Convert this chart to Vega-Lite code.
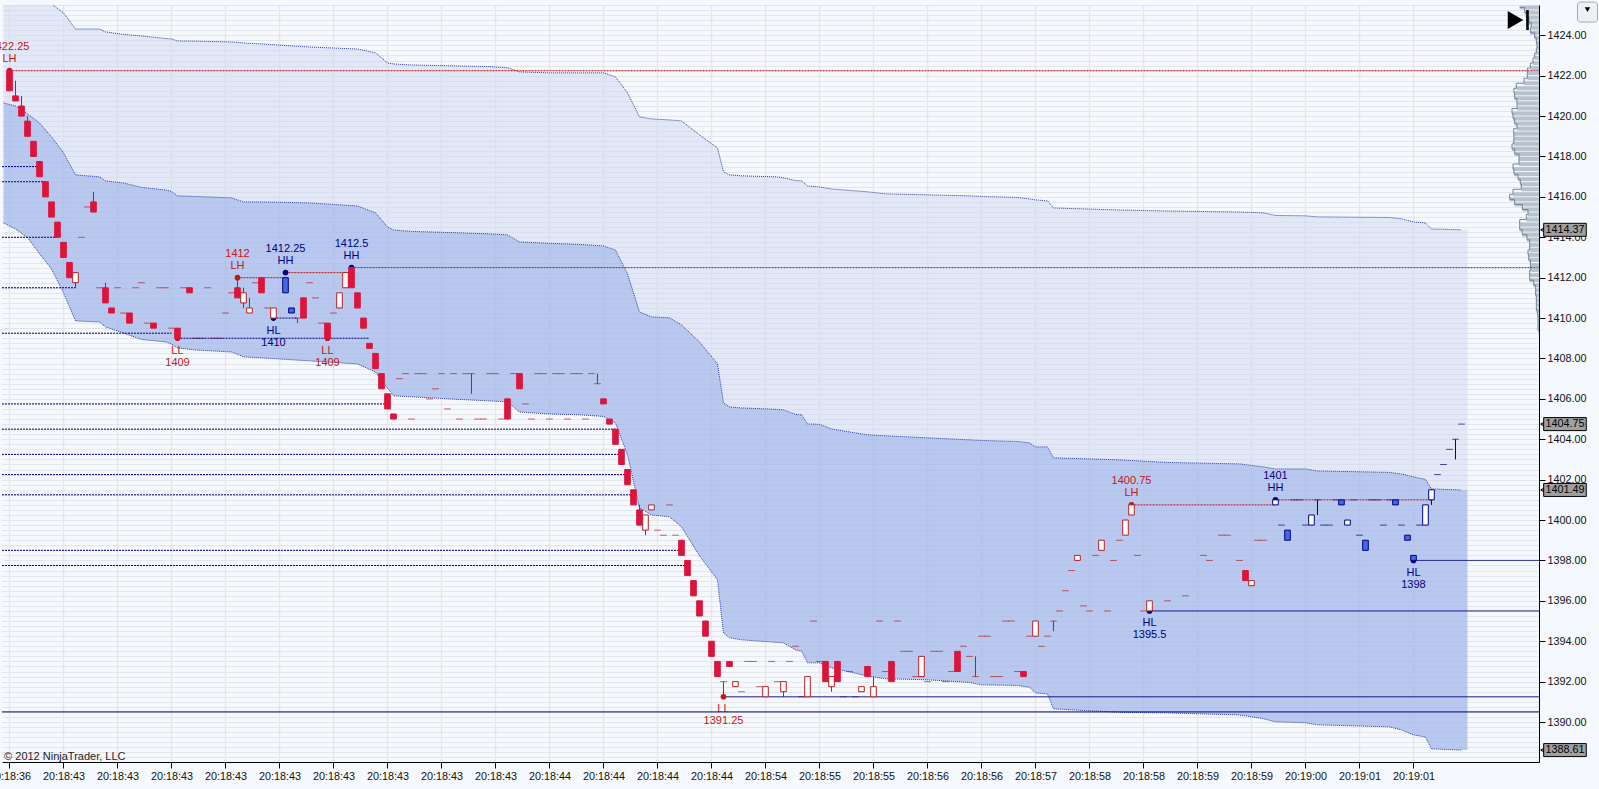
{"$schema":"https://vega.github.io/schema/vega-lite/v6.json","width":1537,"height":757,"autosize":{"type":"none"},"padding":{"left":2,"top":5,"right":60,"bottom":27},"background":"#f5f8fc","config":{"view":{"stroke":null}},
"datasets":{
"bands":[{"i":-1,"t":1427.88,"m":1420.65,"b":1414.71},{"i":1,"t":1427.63,"m":1420.5,"b":1414.41},{"i":3,"t":1427.13,"m":1420.11,"b":1413.99},{"i":5,"t":1426.49,"m":1419.66,"b":1413.18},{"i":7,"t":1425.55,"m":1418.97,"b":1412.43},{"i":9,"t":1425.11,"m":1418.18,"b":1411.25},{"i":11,"t":1424.31,"m":1417.09,"b":1409.86},{"i":15,"t":1424.31,"m":1416.99,"b":1409.81},{"i":16,"t":1424.17,"m":1416.79,"b":1409.56},{"i":19,"t":1424.04,"m":1416.69,"b":1409.26},{"i":22,"t":1423.97,"m":1416.47,"b":1408.94},{"i":26,"t":1423.84,"m":1416.34,"b":1408.82},{"i":27,"t":1423.82,"m":1416.27,"b":1408.72},{"i":28,"t":1423.72,"m":1416.05,"b":1408.52},{"i":31,"t":1423.71,"m":1416.02,"b":1408.42},{"i":37,"t":1423.67,"m":1415.95,"b":1408.32},{"i":39,"t":1423.62,"m":1415.75,"b":1408.08},{"i":42,"t":1423.57,"m":1415.75,"b":1408.03},{"i":50,"t":1423.42,"m":1415.7,"b":1407.88},{"i":58,"t":1423.32,"m":1415.55,"b":1407.73},{"i":61,"t":1423.13,"m":1415.21,"b":1407.33},{"i":63,"t":1422.63,"m":1414.51,"b":1406.54},{"i":64,"t":1422.58,"m":1414.36,"b":1406.15},{"i":67,"t":1422.53,"m":1414.29,"b":1406.1},{"i":75,"t":1422.48,"m":1414.22,"b":1405.97},{"i":80,"t":1422.45,"m":1414.17,"b":1405.9},{"i":83,"t":1422.39,"m":1414.12,"b":1405.85},{"i":85,"t":1422.19,"m":1413.77,"b":1405.35},{"i":90,"t":1422.14,"m":1413.7,"b":1405.25},{"i":95,"t":1422.14,"m":1413.65,"b":1405.21},{"i":99,"t":1422.14,"m":1413.57,"b":1405.13},{"i":101,"t":1421.94,"m":1413.37,"b":1404.81},{"i":103,"t":1421.15,"m":1412.19,"b":1403.23},{"i":105,"t":1419.96,"m":1410.3,"b":1400.6},{"i":107,"t":1419.86,"m":1410.06,"b":1400.25},{"i":110,"t":1419.81,"m":1410.01,"b":1400.16},{"i":112,"t":1419.76,"m":1409.66,"b":1399.66},{"i":115,"t":1419.07,"m":1408.82,"b":1398.23},{"i":118,"t":1418.42,"m":1407.73,"b":1397.04},{"i":119,"t":1417.24,"m":1405.8,"b":1394.41},{"i":120,"t":1417.09,"m":1405.6,"b":1394.17},{"i":122,"t":1417.04,"m":1405.55,"b":1394.07},{"i":128,"t":1416.99,"m":1405.48,"b":1393.94},{"i":129,"t":1416.94,"m":1405.45,"b":1393.92},{"i":131,"t":1416.81,"m":1405.23,"b":1393.57},{"i":132,"t":1416.79,"m":1405.21,"b":1393.52},{"i":133,"t":1416.54,"m":1404.76,"b":1392.93},{"i":135,"t":1416.49,"m":1404.74,"b":1392.93},{"i":137,"t":1416.39,"m":1404.51,"b":1392.68},{"i":140,"t":1416.32,"m":1404.36,"b":1392.48},{"i":143,"t":1416.25,"m":1404.22,"b":1392.28},{"i":146,"t":1416.15,"m":1404.17,"b":1392.14},{"i":153,"t":1416.1,"m":1404.07,"b":1392.09},{"i":160,"t":1416.05,"m":1403.97,"b":1391.96},{"i":162,"t":1416.02,"m":1403.94,"b":1391.84},{"i":168,"t":1415.97,"m":1403.89,"b":1391.81},{"i":170,"t":1415.9,"m":1403.82,"b":1391.72},{"i":171,"t":1415.85,"m":1403.62,"b":1391.44},{"i":173,"t":1415.8,"m":1403.62,"b":1391.39},{"i":174,"t":1415.45,"m":1403.08,"b":1390.65},{"i":185,"t":1415.35,"m":1402.98,"b":1390.48},{"i":193,"t":1415.3,"m":1402.85,"b":1390.45},{"i":205,"t":1415.25,"m":1402.78,"b":1390.35},{"i":209,"t":1415.21,"m":1402.63,"b":1390.16},{"i":211,"t":1415.08,"m":1402.53,"b":1390.01},{"i":216,"t":1415.06,"m":1402.53,"b":1389.96},{"i":218,"t":1415.01,"m":1402.43,"b":1389.86},{"i":230,"t":1414.98,"m":1402.36,"b":1389.76},{"i":232,"t":1414.91,"m":1402.28,"b":1389.61},{"i":234,"t":1414.76,"m":1402.14,"b":1389.36},{"i":236,"t":1414.71,"m":1402.01,"b":1389.26},{"i":237,"t":1414.41,"m":1401.54,"b":1388.67},{"i":242,"t":1414.37,"m":1401.49,"b":1388.61},{"i":243,"t":1414.37,"m":1401.49,"b":1388.61}],
"candles":[{"i":0,"o":1422.25,"c":1421.25,"k":"R"},{"i":1,"o":1421,"c":1420.75,"h":1421.75,"l":1420.75,"k":"R"},{"i":2,"o":1420.5,"c":1420,"h":1421,"l":1420,"k":"R"},{"i":3,"o":1419.75,"c":1419,"h":1420,"l":1419,"k":"R"},{"i":4,"o":1418.75,"c":1418,"k":"R"},{"i":5,"o":1417.75,"c":1417,"k":"R"},{"i":6,"o":1416.75,"c":1416,"k":"R"},{"i":7,"o":1415.75,"c":1415,"k":"R"},{"i":8,"o":1414.75,"c":1414,"k":"R"},{"i":9,"o":1413.75,"c":1413,"k":"R"},{"i":10,"o":1412.75,"c":1412,"k":"R"},{"i":11,"o":1411.75,"c":1412.25,"h":1412.25,"l":1411.5,"k":"W"},{"i":12,"o":1414,"c":1414,"k":"W"},{"i":13,"o":1415.5,"c":1415.5,"k":"W"},{"i":14,"o":1415.75,"c":1415.25,"h":1416.25,"l":1415.25,"k":"R"},{"i":15,"o":1411.5,"c":1411.5,"k":"W"},{"i":16,"o":1411.5,"c":1410.75,"h":1411.75,"l":1410.75,"k":"R"},{"i":17,"o":1410.5,"c":1410.25,"k":"R"},{"i":18,"o":1411.5,"c":1411.5,"k":"W"},{"i":19,"o":1410.25,"c":1410.25,"k":"W"},{"i":20,"o":1410.25,"c":1409.75,"k":"R"},{"i":21,"o":1411.5,"c":1411.5,"k":"W"},{"i":22,"o":1411.75,"c":1411.75,"k":"W"},{"i":23,"o":1409.75,"c":1409.75,"k":"W"},{"i":24,"o":1409.75,"c":1409.5,"k":"R"},{"i":25,"o":1411.5,"c":1411.5,"k":"W"},{"i":26,"o":1411.5,"c":1411.5,"k":"W"},{"i":27,"o":1409.5,"c":1409.5,"k":"W"},{"i":28,"o":1409.5,"c":1409,"k":"R"},{"i":29,"o":1411.5,"c":1411.5,"k":"W"},{"i":30,"o":1411.5,"c":1411.25,"k":"R"},{"i":31,"o":1409,"c":1409,"k":"W"},{"i":32,"o":1409,"c":1409,"k":"W"},{"i":33,"o":1411.5,"c":1411.5,"k":"W"},{"i":34,"o":1409,"c":1409,"k":"W"},{"i":35,"o":1409,"c":1409,"k":"W"},{"i":36,"o":1410.25,"c":1410.25,"k":"W"},{"i":37,"o":1411.25,"c":1411.25,"k":"W"},{"i":38,"o":1411.5,"c":1411,"h":1412,"l":1411,"k":"R"},{"i":39,"o":1410.75,"c":1411.25,"h":1411.5,"l":1410.5,"k":"W"},{"i":40,"o":1410.25,"c":1410.5,"h":1411,"l":1410.25,"k":"W"},{"i":41,"o":1411.75,"c":1411.75,"k":"W"},{"i":42,"o":1412,"c":1411.25,"k":"R"},{"i":43,"o":1410.5,"c":1410.5,"k":"W"},{"i":44,"o":1410,"c":1410.5,"k":"W"},{"i":46,"o":1412,"c":1411.25,"k":"B"},{"i":47,"o":1410.5,"c":1410.25,"k":"B"},{"i":48,"o":1410,"c":1410,"h":1410,"l":1409.75,"k":"W"},{"i":49,"o":1411,"c":1410,"k":"R"},{"i":50,"o":1411.75,"c":1411.75,"k":"W"},{"i":51,"o":1411,"c":1411,"k":"W"},{"i":52,"o":1409.75,"c":1409.75,"k":"W"},{"i":53,"o":1409.75,"c":1409,"k":"R"},{"i":54,"o":1410.25,"c":1410.25,"k":"W"},{"i":55,"o":1410.5,"c":1411.25,"k":"W"},{"i":56,"o":1411.5,"c":1412.25,"k":"W"},{"i":57,"o":1412.5,"c":1411.5,"k":"R"},{"i":58,"o":1411.25,"c":1410.5,"k":"R"},{"i":59,"o":1410,"c":1409.5,"k":"R"},{"i":60,"o":1408.75,"c":1408.5,"k":"R"},{"i":61,"o":1408.25,"c":1407.5,"k":"R"},{"i":62,"o":1407.25,"c":1406.5,"k":"R"},{"i":63,"o":1406.25,"c":1405.5,"k":"R"},{"i":64,"o":1405.25,"c":1405,"k":"R"},{"i":65,"o":1407,"c":1407,"k":"W"},{"i":66,"o":1407.25,"c":1407.25,"k":"W"},{"i":67,"o":1405,"c":1405,"k":"W"},{"i":68,"o":1407.25,"c":1407.25,"k":"W"},{"i":69,"o":1407.25,"c":1407.25,"k":"W"},{"i":70,"o":1406,"c":1406,"k":"W"},{"i":71,"o":1406.5,"c":1406.5,"k":"W"},{"i":72,"o":1407.25,"c":1407.25,"k":"W"},{"i":73,"o":1405.5,"c":1405.5,"k":"W"},{"i":74,"o":1407.25,"c":1407.25,"k":"W"},{"i":75,"o":1405,"c":1405,"k":"W"},{"i":76,"o":1407.25,"c":1407.25,"k":"W"},{"i":77,"o":1407.25,"c":1407.25,"h":1407.25,"l":1406.25,"k":"W"},{"i":78,"o":1405,"c":1405,"k":"W"},{"i":79,"o":1405,"c":1405,"k":"W"},{"i":80,"o":1407.25,"c":1407.25,"k":"W"},{"i":81,"o":1407.25,"c":1407.25,"k":"W"},{"i":82,"o":1405,"c":1405,"k":"W"},{"i":83,"o":1406,"c":1405,"k":"R"},{"i":84,"o":1407.25,"c":1407.25,"k":"W"},{"i":85,"o":1407.25,"c":1406.5,"k":"R"},{"i":86,"o":1405.75,"c":1405.75,"k":"W"},{"i":87,"o":1405,"c":1405,"k":"W"},{"i":88,"o":1407.25,"c":1407.25,"k":"W"},{"i":89,"o":1407.25,"c":1407.25,"k":"W"},{"i":90,"o":1405,"c":1405,"k":"W"},{"i":91,"o":1407.25,"c":1407.25,"k":"W"},{"i":92,"o":1407.25,"c":1407.25,"k":"W"},{"i":93,"o":1405,"c":1405,"k":"W"},{"i":94,"o":1407.25,"c":1407.25,"k":"W"},{"i":95,"o":1407.25,"c":1407.25,"k":"W"},{"i":96,"o":1405,"c":1405,"k":"W"},{"i":97,"o":1407.25,"c":1407.25,"k":"W"},{"i":98,"o":1406.75,"c":1406.75,"h":1407.25,"l":1406.75,"k":"W"},{"i":99,"o":1406,"c":1405.75,"k":"R"},{"i":100,"o":1405,"c":1404.75,"k":"R"},{"i":101,"o":1404.5,"c":1403.75,"k":"R"},{"i":102,"o":1403.5,"c":1402.75,"k":"R"},{"i":103,"o":1402.5,"c":1401.75,"k":"R"},{"i":104,"o":1401.5,"c":1400.75,"k":"R"},{"i":105,"o":1400.5,"c":1399.75,"h":1400.75,"l":1399.75,"k":"R"},{"i":106,"o":1399.5,"c":1400.25,"h":1400.25,"l":1399.25,"k":"W"},{"i":107,"o":1400.5,"c":1400.75,"k":"W"},{"i":108,"o":1399.5,"c":1399.5,"k":"W"},{"i":109,"o":1399.25,"c":1399.25,"k":"W"},{"i":110,"o":1400.75,"c":1400.75,"k":"W"},{"i":111,"o":1399.25,"c":1399.25,"k":"W"},{"i":112,"o":1399,"c":1398.25,"k":"R"},{"i":113,"o":1398,"c":1397.25,"k":"R"},{"i":114,"o":1397,"c":1396.25,"k":"R"},{"i":115,"o":1396,"c":1395.25,"k":"R"},{"i":116,"o":1395,"c":1394.25,"k":"R"},{"i":117,"o":1394,"c":1393.25,"k":"R"},{"i":118,"o":1393,"c":1392.25,"k":"R"},{"i":119,"o":1392,"c":1392,"h":1392,"l":1391.25,"k":"W"},{"i":120,"o":1393,"c":1392.75,"k":"R"},{"i":121,"o":1391.75,"c":1392,"k":"W"},{"i":122,"o":1391.5,"c":1391.5,"k":"W"},{"i":123,"o":1393,"c":1393,"k":"W"},{"i":124,"o":1393,"c":1393,"k":"W"},{"i":125,"o":1391.75,"c":1391.75,"k":"W"},{"i":126,"o":1391.25,"c":1391.75,"k":"W"},{"i":127,"o":1393,"c":1393,"k":"W"},{"i":128,"o":1392,"c":1392,"k":"W"},{"i":129,"o":1391.5,"c":1392,"h":1392,"l":1391.25,"k":"W"},{"i":130,"o":1393,"c":1393,"k":"W"},{"i":131,"o":1393.75,"c":1393.75,"k":"W"},{"i":132,"o":1391.25,"c":1391.25,"k":"W"},{"i":133,"o":1391.25,"c":1392.25,"k":"W"},{"i":134,"o":1395,"c":1395,"k":"W"},{"i":135,"o":1393,"c":1393,"k":"W"},{"i":136,"o":1393,"c":1392,"k":"R"},{"i":137,"o":1391.75,"c":1392.25,"h":1392.25,"l":1391.5,"k":"W"},{"i":138,"o":1393,"c":1392,"k":"R"},{"i":139,"o":1391.25,"c":1391.25,"k":"W"},{"i":140,"o":1392.5,"c":1392.5,"k":"W"},{"i":141,"o":1391.25,"c":1391.25,"k":"W"},{"i":142,"o":1391.5,"c":1391.75,"k":"W"},{"i":143,"o":1392.75,"c":1392.25,"k":"R"},{"i":144,"o":1391.25,"c":1391.75,"h":1392.25,"l":1391.25,"k":"W"},{"i":145,"o":1395,"c":1395,"k":"W"},{"i":146,"o":1392.5,"c":1392.5,"k":"W"},{"i":147,"o":1393,"c":1392,"k":"R"},{"i":148,"o":1395,"c":1395,"k":"W"},{"i":149,"o":1393.5,"c":1393.5,"k":"W"},{"i":150,"o":1393.5,"c":1393.5,"k":"W"},{"i":151,"o":1392.25,"c":1392.25,"k":"W"},{"i":152,"o":1392.25,"c":1393.25,"k":"W"},{"i":153,"o":1392,"c":1392,"k":"W"},{"i":154,"o":1393.5,"c":1393.5,"k":"W"},{"i":155,"o":1393.5,"c":1393.5,"k":"W"},{"i":156,"o":1392,"c":1392,"k":"W"},{"i":157,"o":1392.5,"c":1392.5,"k":"W"},{"i":158,"o":1393.5,"c":1392.5,"k":"R"},{"i":159,"o":1393.75,"c":1393.75,"k":"W"},{"i":160,"o":1393.25,"c":1393.25,"k":"W"},{"i":161,"o":1392.25,"c":1392.25,"h":1393.25,"l":1392.25,"k":"W"},{"i":162,"o":1394.25,"c":1394.25,"k":"W"},{"i":163,"o":1394.25,"c":1394.25,"k":"W"},{"i":164,"o":1392.25,"c":1392.25,"k":"W"},{"i":165,"o":1392.25,"c":1392.25,"k":"W"},{"i":166,"o":1395,"c":1395,"k":"W"},{"i":167,"o":1395,"c":1395,"k":"W"},{"i":168,"o":1392.5,"c":1392.5,"k":"W"},{"i":169,"o":1392.5,"c":1392.25,"k":"R"},{"i":170,"o":1394.25,"c":1394.25,"k":"W"},{"i":171,"o":1394.25,"c":1395,"k":"W"},{"i":172,"o":1393.75,"c":1393.75,"k":"W"},{"i":173,"o":1394.25,"c":1394.25,"k":"W"},{"i":174,"o":1395,"c":1395,"h":1395,"l":1394.5,"k":"W"},{"i":175,"o":1395.5,"c":1395.5,"k":"W"},{"i":176,"o":1396.5,"c":1396.5,"k":"W"},{"i":177,"o":1397.5,"c":1397.5,"k":"W"},{"i":178,"o":1398,"c":1398.25,"k":"W"},{"i":179,"o":1395.75,"c":1395.75,"k":"W"},{"i":180,"o":1395.5,"c":1395.5,"k":"W"},{"i":181,"o":1398.25,"c":1398.25,"k":"W"},{"i":182,"o":1398.5,"c":1399,"k":"W"},{"i":183,"o":1395.5,"c":1395.5,"k":"W"},{"i":184,"o":1398,"c":1398,"k":"W"},{"i":185,"o":1399,"c":1399,"k":"W"},{"i":186,"o":1399.25,"c":1400,"k":"W"},{"i":187,"o":1400.25,"c":1400.75,"k":"W"},{"i":188,"o":1398.25,"c":1398.25,"k":"W"},{"i":189,"o":1395.5,"c":1395.5,"k":"W"},{"i":190,"o":1395.5,"c":1396,"k":"W"},{"i":193,"o":1396,"c":1396,"k":"W"},{"i":196,"o":1396.25,"c":1396.25,"k":"W"},{"i":199,"o":1398.25,"c":1398.25,"k":"W"},{"i":200,"o":1398,"c":1398,"k":"W"},{"i":202,"o":1399.25,"c":1399.25,"k":"W"},{"i":203,"o":1399.25,"c":1399.25,"k":"W"},{"i":205,"o":1398,"c":1398,"k":"W"},{"i":206,"o":1397.5,"c":1397,"k":"R"},{"i":207,"o":1396.75,"c":1397,"k":"W"},{"i":208,"o":1399,"c":1399,"k":"W"},{"i":209,"o":1399,"c":1399,"k":"W"},{"i":211,"o":1400.75,"c":1401,"k":"N"},{"i":212,"o":1399.75,"c":1399.75,"k":"N"},{"i":213,"o":1399.5,"c":1399,"k":"B"},{"i":214,"o":1401,"c":1401,"k":"N"},{"i":215,"o":1401,"c":1401,"k":"N"},{"i":216,"o":1399.75,"c":1399.75,"k":"N"},{"i":217,"o":1399.75,"c":1400.25,"k":"N"},{"i":218,"o":1401,"c":1401,"h":1401,"l":1400.25,"k":"N"},{"i":219,"o":1399.75,"c":1399.75,"k":"N"},{"i":220,"o":1399.75,"c":1399.75,"k":"N"},{"i":221,"o":1401,"c":1401,"k":"N"},{"i":222,"o":1401,"c":1400.75,"k":"B"},{"i":223,"o":1399.75,"c":1400,"k":"N"},{"i":224,"o":1401,"c":1401,"k":"N"},{"i":225,"o":1399.25,"c":1399.25,"k":"N"},{"i":226,"o":1399,"c":1398.5,"k":"B"},{"i":227,"o":1401,"c":1401,"k":"N"},{"i":228,"o":1401,"c":1401,"k":"N"},{"i":229,"o":1399.75,"c":1399.75,"k":"N"},{"i":230,"o":1401,"c":1401,"k":"N"},{"i":231,"o":1401,"c":1400.75,"k":"B"},{"i":232,"o":1399.75,"c":1399.75,"k":"N"},{"i":233,"o":1399.25,"c":1399,"k":"B"},{"i":234,"o":1398.25,"c":1398,"k":"B"},{"i":235,"o":1399.75,"c":1399.75,"k":"N"},{"i":236,"o":1399.75,"c":1400.75,"k":"N"},{"i":237,"o":1401,"c":1401.5,"h":1401.5,"l":1400.75,"k":"N"},{"i":238,"o":1402.25,"c":1402.25,"k":"N"},{"i":239,"o":1402.75,"c":1402.75,"k":"N"},{"i":240,"o":1403.5,"c":1403.5,"k":"N"},{"i":241,"o":1404,"c":1404,"h":1404,"l":1403,"k":"N"},{"i":242,"o":1404.75,"c":1404.75,"k":"N"}],
"lines":[{"i":-1.25,"i2":5,"p":1417.5,"k":"n","s":"d"},{"i":-1.25,"i2":6,"p":1416.75,"k":"n","s":"d"},{"i":-1.25,"i2":8,"p":1414,"k":"n","s":"d"},{"i":-1.25,"i2":11,"p":1411.5,"k":"n","s":"d"},{"i":-1.25,"i2":27,"p":1409.25,"k":"n","s":"d"},{"i":-1.25,"i2":63,"p":1405.75,"k":"n","s":"d"},{"i":-1.25,"i2":101,"p":1404.5,"k":"n","s":"d"},{"i":-1.25,"i2":102,"p":1403.25,"k":"n","s":"d"},{"i":-1.25,"i2":103,"p":1402.25,"k":"n","s":"d"},{"i":-1.25,"i2":104,"p":1401.25,"k":"n","s":"d"},{"i":-1.25,"i2":112,"p":1398.5,"k":"n","s":"d"},{"i":-1.25,"i2":113,"p":1397.75,"k":"n","s":"d"},{"i":28,"i2":60,"p":1409,"k":"n","s":"d"},{"i":44,"i2":48,"p":1410,"k":"n","s":"d"},{"i":-1.25,"i2":254.92,"p":1390.5,"k":"n","s":"s"},{"i":119,"i2":254.92,"p":1391.25,"k":"n","s":"s"},{"i":190,"i2":254.92,"p":1395.5,"k":"n","s":"s"},{"i":234,"i2":254.92,"p":1398,"k":"n","s":"s"},{"i":0,"i2":254.92,"p":1422.25,"k":"r","s":"d"},{"i":57,"i2":254.92,"p":1412.5,"k":"r","s":"d"},{"i":38,"i2":46,"p":1412,"k":"r","s":"d"},{"i":46,"i2":57,"p":1412.25,"k":"r","s":"d"},{"i":187,"i2":211,"p":1400.75,"k":"r","s":"d"},{"i":211,"i2":237,"p":1401,"k":"r","s":"d"}],
"dots":[{"i":0,"p":1422.25,"k":"r"},{"i":38,"p":1412,"k":"r"},{"i":28,"p":1409,"k":"r"},{"i":53,"p":1409,"k":"r"},{"i":119,"p":1391.25,"k":"r"},{"i":187,"p":1400.75,"k":"r"},{"i":46,"p":1412.25,"k":"n"},{"i":57,"p":1412.5,"k":"n"},{"i":44,"p":1410,"k":"n"},{"i":211,"p":1401,"k":"n"},{"i":190,"p":1395.5,"k":"n"},{"i":234,"p":1398,"k":"n"}],
"labels":[{"i":0,"p":1423.42,"t":"1422.25","k":"r"},{"i":0,"p":1422.83,"t":"LH","k":"r"},{"i":38,"p":1413.16,"t":"1412","k":"r"},{"i":38,"p":1412.58,"t":"LH","k":"r"},{"i":46,"p":1413.41,"t":"1412.25","k":"n"},{"i":46,"p":1412.83,"t":"HH","k":"n"},{"i":57,"p":1413.65,"t":"1412.5","k":"n"},{"i":57,"p":1413.07,"t":"HH","k":"n"},{"i":44,"p":1409.36,"t":"HL","k":"n"},{"i":44,"p":1408.75,"t":"1410","k":"n"},{"i":28,"p":1408.37,"t":"LL","k":"r"},{"i":28,"p":1407.76,"t":"1409","k":"r"},{"i":53,"p":1408.37,"t":"LL","k":"r"},{"i":53,"p":1407.76,"t":"1409","k":"r"},{"i":119,"p":1390.65,"t":"LL","k":"r"},{"i":119,"p":1390.05,"t":"1391.25","k":"r"},{"i":187,"p":1401.94,"t":"1400.75","k":"r"},{"i":187,"p":1401.33,"t":"LH","k":"r"},{"i":190,"p":1394.9,"t":"HL","k":"n"},{"i":190,"p":1394.31,"t":"1395.5","k":"n"},{"i":211,"p":1402.18,"t":"1401","k":"n"},{"i":211,"p":1401.57,"t":"HH","k":"n"},{"i":234,"p":1397.38,"t":"HL","k":"n"},{"i":234,"p":1396.77,"t":"1398","k":"n"}],
"profile":[{"p":1425.375,"e":251.7},{"p":1425.125,"e":252.53},{"p":1424.875,"e":252.81},{"p":1424.625,"e":253.25},{"p":1424.375,"e":253.64},{"p":1424.125,"e":253.48},{"p":1423.875,"e":254.2},{"p":1423.625,"e":254.48},{"p":1423.375,"e":254.59},{"p":1423.125,"e":254.48},{"p":1422.875,"e":254.2},{"p":1422.625,"e":253.92},{"p":1422.375,"e":253.48},{"p":1422.125,"e":252.98},{"p":1421.875,"e":252.98},{"p":1421.625,"e":252.42},{"p":1421.375,"e":251.14},{"p":1421.125,"e":250.75},{"p":1420.875,"e":250.86},{"p":1420.625,"e":251.25},{"p":1420.375,"e":251.25},{"p":1420.125,"e":250.42},{"p":1419.875,"e":250.59},{"p":1419.625,"e":250.86},{"p":1419.375,"e":251.25},{"p":1419.125,"e":250.7},{"p":1418.875,"e":250.75},{"p":1418.625,"e":250.7},{"p":1418.375,"e":250.42},{"p":1418.125,"e":250.86},{"p":1417.875,"e":251.59},{"p":1417.625,"e":251.59},{"p":1417.375,"e":250.59},{"p":1417.125,"e":250.75},{"p":1416.875,"e":251.42},{"p":1416.625,"e":251.81},{"p":1416.375,"e":251.98},{"p":1416.125,"e":250.59},{"p":1415.875,"e":250.03},{"p":1415.625,"e":250.86},{"p":1415.375,"e":252.14},{"p":1415.125,"e":253.09},{"p":1414.875,"e":252.81},{"p":1414.625,"e":251.7},{"p":1414.375,"e":251.7},{"p":1414.125,"e":252.14},{"p":1413.875,"e":252.92},{"p":1413.625,"e":253.36},{"p":1413.375,"e":253.36},{"p":1413.125,"e":253.09},{"p":1412.875,"e":253.2},{"p":1412.625,"e":253.48},{"p":1412.375,"e":253.53},{"p":1412.125,"e":253.36},{"p":1411.875,"e":253.36},{"p":1411.625,"e":254.03},{"p":1411.375,"e":254.36},{"p":1411.125,"e":254.36},{"p":1410.875,"e":254.48},{"p":1410.625,"e":254.48},{"p":1410.375,"e":254.48},{"p":1410.125,"e":254.7},{"p":1409.875,"e":254.75},{"p":1409.625,"e":254.75},{"p":1409.375,"e":254.75}],
"tags":[{"p":1414.37},{"p":1404.75},{"p":1401.49},{"p":1388.61}]
},
"encoding":{"x":{"type":"quantitative","scale":{"domain":[-1.25,254.92],"nice":false,"zero":false},"axis":{"orient":"bottom","title":null,"values":[0,9,18,27,36,45,54,63,72,81,90,99,108,117,126,135,144,153,162,171,180,189,198,207,216,225,234],"labelExpr":"['20:18:36','20:18:43','20:18:43','20:18:43','20:18:43','20:18:43','20:18:43','20:18:43','20:18:43','20:18:43','20:18:44','20:18:44','20:18:44','20:18:44','20:18:54','20:18:55','20:18:55','20:18:56','20:18:56','20:18:57','20:18:58','20:18:58','20:18:59','20:18:59','20:19:00','20:19:01','20:19:01'][round(datum.value/9)]","grid":true,"gridColor":"#e4e6ea","gridWidth":1.4,"domainColor":"#000","domainWidth":1,"tickColor":"#000","tickSize":6,"labelFont":"Liberation Sans","labelFontSize":10.8,"labelColor":"#111","labelPadding":2,"labelOverlap":false,"labelFlush":false,"labelBound":false}},"y":{"type":"quantitative","axis":null,"scale":{"domain":[1388.02,1425.5],"nice":false,"zero":false}}},
"layer":[
{"data":{"name":"bands"},"mark":{"type":"area","color":"#cfd8f2","opacity":0.5,"clip":true},"encoding":{
"x":{"field":"i"},
"y":{"field":"t","axis":{"orient":"right","title":null,"values":[1390,1392,1394,1396,1398,1400,1402,1404,1406,1408,1410,1412,1414,1416,1418,1420,1422,1424],"format":".2f","grid":false,"domainColor":"#000","domainWidth":1,"tickColor":"#000","tickSize":6,"labelFont":"Liberation Sans","labelFontSize":10.8,"labelColor":"#111","labelPadding":2,"labelOverlap":false}},
"y2":{"field":"m"}}},
{"data":{"name":"bands"},"mark":{"type":"area","color":"#9fb3e8","opacity":0.7,"clip":true},"encoding":{"x":{"field":"i"},"y":{"field":"m","axis":{"orient":"left","title":null,"domain":false,"ticks":false,"labels":false,"grid":true,"gridColor":"#e4e6ea","gridWidth":1.2,"values":[1388.25,1388.5,1388.75,1389,1389.25,1389.5,1389.75,1390,1390.25,1390.5,1390.75,1391,1391.25,1391.5,1391.75,1392,1392.25,1392.5,1392.75,1393,1393.25,1393.5,1393.75,1394,1394.25,1394.5,1394.75,1395,1395.25,1395.5,1395.75,1396,1396.25,1396.5,1396.75,1397,1397.25,1397.5,1397.75,1398,1398.25,1398.5,1398.75,1399,1399.25,1399.5,1399.75,1400,1400.25,1400.5,1400.75,1401,1401.25,1401.5,1401.75,1402,1402.25,1402.5,1402.75,1403,1403.25,1403.5,1403.75,1404,1404.25,1404.5,1404.75,1405,1405.25,1405.5,1405.75,1406,1406.25,1406.5,1406.75,1407,1407.25,1407.5,1407.75,1408,1408.25,1408.5,1408.75,1409,1409.25,1409.5,1409.75,1410,1410.25,1410.5,1410.75,1411,1411.25,1411.5,1411.75,1412,1412.25,1412.5,1412.75,1413,1413.25,1413.5,1413.75,1414,1414.25,1414.5,1414.75,1415,1415.25,1415.5,1415.75,1416,1416.25,1416.5,1416.75,1417,1417.25,1417.5,1417.75,1418,1418.25,1418.5,1418.75,1419,1419.25,1419.5,1419.75,1420,1420.25,1420.5,1420.75,1421,1421.25,1421.5,1421.75,1422,1422.25,1422.5,1422.75,1423,1423.25,1423.5,1423.75,1424,1424.25,1424.5,1424.75,1425,1425.25,1425.5]}},"y2":{"field":"b"}}},
{"data":{"name":"profile"},"mark":{"type":"rule","color":"#b7c2ce","strokeWidth":4},"encoding":{"x":{"field":"e"},"x2":{"datum":254.92},"y":{"field":"p"}}},
{"data":{"name":"profile"},"mark":{"type":"line","interpolate":"step-before","color":"#73869a","strokeWidth":1},"encoding":{"x":{"field":"e"},"y":{"field":"p"},"order":{"field":"p"}}},
{"data":{"name":"bands"},"transform":[{"filter":"datum.i<243"}],"mark":{"type":"line","color":"#2c3da5","strokeWidth":1,"strokeDash":[1,1],"clip":true},"encoding":{"x":{"field":"i"},"y":{"field":"t"}}},
{"data":{"name":"bands"},"transform":[{"filter":"datum.i<243"}],"mark":{"type":"line","color":"#2c3da5","strokeWidth":1,"strokeDash":[1,1]},"encoding":{"x":{"field":"i"},"y":{"field":"m"}}},
{"data":{"name":"bands"},"transform":[{"filter":"datum.i<243"}],"mark":{"type":"line","color":"#2c3da5","strokeWidth":1,"strokeDash":[1,1]},"encoding":{"x":{"field":"i"},"y":{"field":"b"}}},
{"data":{"name":"candles"},"transform":[{"filter":"isValid(datum.h)"}],"mark":{"type":"rule","strokeWidth":1},"encoding":{"x":{"field":"i"},"y":{"field":"h"},"y2":{"field":"l"},"color":{"field":"k","type":"nominal","legend":null,"scale":{"domain":["R","W","B","N","r","n"],"range":["#b22222","#b22222","#000080","#000080","#c01818","#000080"]}}}},
{"data":{"name":"candles"},"transform":[{"filter":"datum.o==datum.c"}],"mark":{"type":"tick","orient":"horizontal","size":6.7,"thickness":1},"encoding":{"x":{"field":"i"},"y":{"field":"o"},"color":{"field":"k","type":"nominal","legend":null}}},
{"data":{"name":"lines"},"mark":{"type":"rule","strokeWidth":1},"encoding":{"x":{"field":"i"},"x2":{"field":"i2"},"y":{"field":"p"},"color":{"field":"k","type":"nominal","legend":null},"strokeDash":{"field":"s","type":"nominal","legend":null,"scale":{"domain":["d","s"],"range":[[2,1],[1,0]]}}}},
{"data":{"name":"dots"},"mark":{"type":"point","filled":true,"size":32,"opacity":1},"encoding":{"x":{"field":"i"},"y":{"field":"p"},"color":{"field":"k","type":"nominal","legend":null}}},
{"data":{"name":"candles"},"transform":[{"filter":"datum.o!=datum.c"}],"mark":{"type":"rect","width":5.6,"strokeWidth":1},"encoding":{"x":{"field":"i"},"y":{"field":"o"},"y2":{"field":"c"},"fill":{"field":"k","type":"nominal","legend":null,"scale":{"domain":["R","W","B","N"],"range":["#dc143c","#ffffff","#4169e1","#ffffff"]}},"stroke":{"field":"k","type":"nominal","legend":null,"scale":{"domain":["R","W","B","N"],"range":["#dc143c","#b22222","#000080","#000080"]}}}},
{"data":{"name":"labels"},"mark":{"type":"text","font":"Liberation Sans","fontSize":11},"encoding":{"x":{"field":"i"},"y":{"field":"p"},"text":{"field":"t"},"color":{"field":"k","type":"nominal","legend":null}}},
{"data":{"values":[{"t":"© 2012 NinjaTrader, LLC"}]},"mark":{"type":"text","align":"left","font":"Liberation Sans","fontSize":11,"color":"#222"},"encoding":{"x":{"datum":-0.9},"y":{"datum":1388.27},"text":{"field":"t"}}},
{"data":{"values":[{}]},"mark":{"type":"point","shape":"triangle-right","filled":true,"size":320,"color":"#000","opacity":1},"encoding":{"x":{"datum":251},"y":{"datum":1424.76}}},
{"data":{"values":[{}]},"mark":{"type":"rule","color":"#000","strokeWidth":2.6},"encoding":{"x":{"datum":253},"y":{"datum":1425.25},"y2":{"datum":1424.26}}},
{"data":{"name":"tags"},"mark":{"type":"point","shape":"triangle-left","filled":true,"size":70,"color":"#a0a0a0","stroke":"#000","strokeWidth":1,"opacity":1},"encoding":{"x":{"datum":255.8},"y":{"field":"p"}}},
{"data":{"name":"tags"},"mark":{"type":"rect","width":42.6,"height":13,"color":"#a0a0a0","stroke":"#000","strokeWidth":1},"encoding":{"x":{"datum":259.25},"y":{"field":"p"}}},
{"data":{"name":"tags"},"mark":{"type":"text","font":"Liberation Sans","fontSize":10.8,"color":"#000"},"encoding":{"x":{"datum":259.25},"y":{"field":"p"},"text":{"field":"p","type":"quantitative","format":".2f"}}},
{"data":{"values":[{}]},"mark":{"type":"rect","width":20,"height":20,"cornerRadius":3,"color":"#eef0f3","stroke":"#a8a8a8","strokeWidth":1},"encoding":{"x":{"datum":263},"y":{"datum":1425.15}}},
{"data":{"values":[{}]},"mark":{"type":"point","shape":"triangle-down","filled":true,"size":30,"color":"#000","opacity":1},"encoding":{"x":{"datum":263},"y":{"datum":1425.27}}}
]}
